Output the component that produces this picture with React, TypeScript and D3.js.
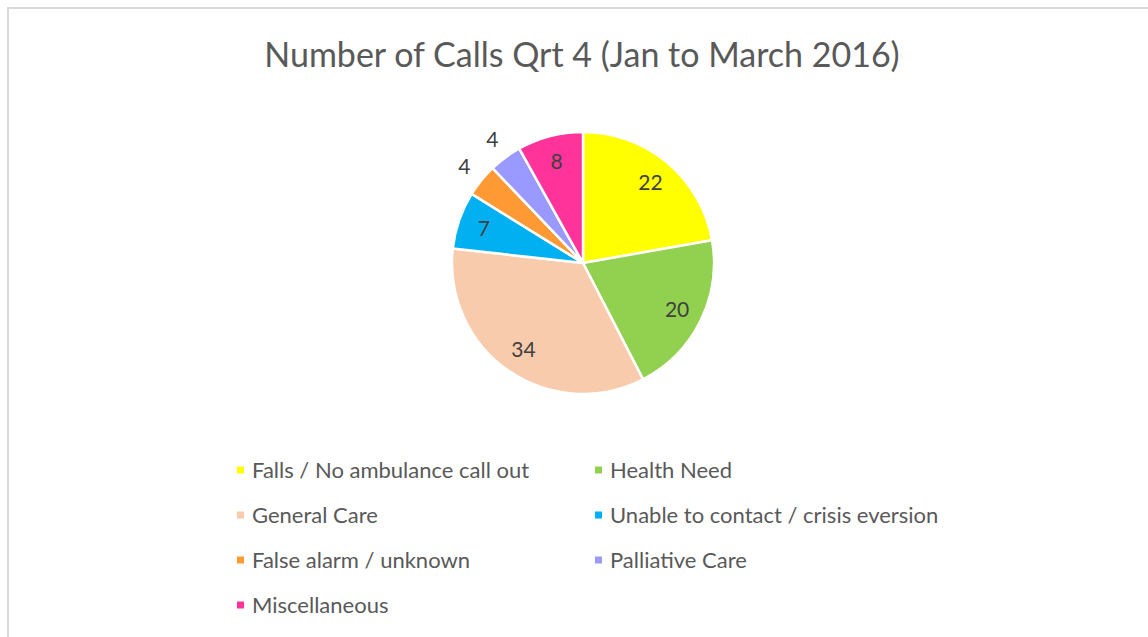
import React from 'react';
import * as d3 from 'd3';

const categories = [
  'Falls / No ambulance call out',
  'Health Need',
  'General Care',
  'Unable to contact / crisis eversion',
  'False alarm / unknown',
  'Palliative Care',
  'Miscellaneous',
];
const values = [22, 20, 34, 7, 4, 4, 8];
const colors = ['#FFFF00', '#92D050', '#F8CBAD', '#00B0F0', '#FF9933', '#9999FF', '#FF3399'];

const W = 1148;
const H = 637;
const FONT = 'Lato, "Open Sans", sans-serif';

export default function App() {
  const cx = 583;
  const cy = 263;
  const radius = 131;

  const data = categories.map((name, i) => ({ name, value: values[i], color: colors[i] }));
  const pie = d3.pie<any>().sort(null).value(d => d.value);
  const arcs = pie(data);
  const arc = d3.arc<any>().innerRadius(0).outerRadius(radius);
  const inner = d3.arc<any>().innerRadius(105).outerRadius(105);
  const outer = d3.arc<any>().innerRadius(153).outerRadius(153);

  // legend: two columns, rows 45px apart
  const colX = d3.scaleOrdinal<number, number>().domain([0, 1]).range([237, 595]);
  const rowY = d3.scaleLinear().domain([0, 1]).range([470, 515]);

  return (
    <svg width={W} height={H} style={{ position: 'absolute', left: 0, top: 0, background: '#fff' }}>
      <rect x={8} y={8} width={W} height={H} fill="#fff" stroke="#d9d9d9" strokeWidth={2} />
      <text x={582} y={67} textAnchor="middle" fontFamily={FONT} fontSize={34} fill="#595959">
        Number of Calls Qrt 4 (Jan to March 2016)
      </text>
      <g transform={`translate(${cx},${cy})`}>
        {arcs.map((a, i) => (
          <path key={i} d={arc(a) || ''} fill={a.data.color} stroke="#fff" strokeWidth={2.5} strokeLinejoin="round" />
        ))}
        {arcs.map((a, i) => {
          const [x, y] = (a.data.value < 5 ? outer : inner).centroid(a);
          return (
            <text key={i} x={x} y={y} dy="0.35em" textAnchor="middle" fontFamily={FONT} fontSize={21} fill="#404040">
              {a.data.value}
            </text>
          );
        })}
      </g>
      <g>
        {data.map((d, i) => {
          const x = colX(i % 2);
          const y = rowY(Math.floor(i / 2));
          return (
            <g key={i} transform={`translate(${x},${y})`}>
              <rect x={0} y={-3.5} width={7} height={7} fill={d.color} />
              <text x={15} y={0} dy="0.35em" fontFamily={FONT} fontSize={22} fill="#595959">
                {d.name}
              </text>
            </g>
          );
        })}
      </g>
    </svg>
  );
}
